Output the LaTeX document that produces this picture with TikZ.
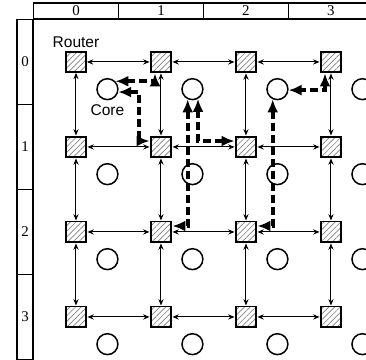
\documentclass[tikz,border=0pt]{standalone}
\usepackage{fontspec}
\setmainfont{Liberation Serif}
\setsansfont{Liberation Sans}
\usetikzlibrary{arrows.meta,positioning,patterns.meta}

\begin{document}
\begin{tikzpicture}[
    x=1.5cm, y=1.5cm,
    router/.style={draw, line width=1pt, minimum size=10.5pt, inner sep=0pt, pattern={Lines[angle=45,distance=2pt,line width=0.35pt]}, pattern color=gray},
    core/.style={draw, circle, line width=0.75pt, minimum size=10.5pt, inner sep=0pt},
    hcell/.style={draw, line width=0.6pt, minimum width=1.5cm, minimum height=8pt, inner sep=0pt, font=\fontsize{7.5}{8}\selectfont},
    vcell/.style={draw, line width=0.6pt, minimum width=8pt, minimum height=1.5cm, inner sep=0pt, font=\fontsize{7.5}{8}\selectfont},
    lbl/.style={inner sep=1pt, font=\fontsize{7.8}{9}\sffamily},
    link/.style={{Stealth[length=3.2pt,width=2.6pt]}-{Stealth[length=3.2pt,width=2.6pt]}, line width=0.5pt},
    route/.style={{Latex[length=6.5pt,width=5.5pt]}-{Latex[length=6.5pt,width=5.5pt]}, line width=2pt, dash pattern=on 4pt off 2pt}
]
\useasboundingbox (-0.894,0.729) rectangle (3.412,-3.506);

% column and row headers
\foreach \i in {0,...,3} {
  \node[hcell] (col\i) at (\i,0.6) {\i};
  \node[vcell] (row\i) at (-0.6,-\i) {\i};
}

% routers and cores
\foreach \i in {0,...,3}
  \foreach \j in {0,...,3} {
    \node[router] (r\i\j) at (\i,-\j) {};
    \node[core] (c\i\j) at (\i+0.37,-\j-0.32) {};
  }

% mesh links
\foreach \i [count=\k] in {0,1,2}
  \foreach \j in {0,...,3} {
    \draw[link] (r\i\j) -- (r\k\j);
    \draw[link] (r\j\i) -- (r\j\k);
  }

\node[lbl, above=0.5pt of r00] (routerlbl) {Router};
\node[lbl, below=1pt of c00] (corelbl) {Core};

% routes between cores and routers
\draw[route] ([xshift=-3pt]r10.south) |- (c00.45);
\draw[route] (c00.-15) -- ++(0.24,0) |- ([yshift=3pt]r11.west);
\draw[route] (c10.-115) |- ([yshift=3pt]r12.east);
\draw[route] (c10.-60) |- ([yshift=3pt]r21.west);
\draw[route] (c20.-115) |- ([yshift=3pt]r22.east);
\draw[route] ([xshift=-3pt]r30.south) |- (c20.-5);
\end{tikzpicture}
\end{document}
